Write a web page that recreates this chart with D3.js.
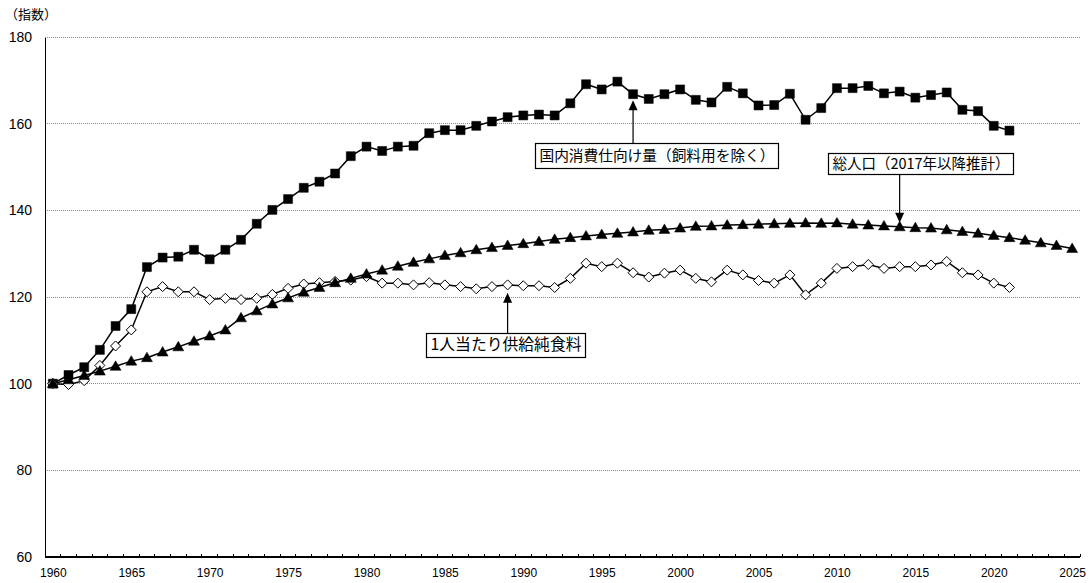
<!DOCTYPE html>
<html>
<head>
<meta charset="utf-8">
<script src="https://cdn.jsdelivr.net/npm/d3@7/dist/d3.min.js"></script>
<style>
  html, body { margin: 0; padding: 0; background: #fff; }
  svg { display: block; }
</style>
</head>
<body>
<svg id="chart" width="1092" height="583"></svg>
<script>
// Categories (years on the horizontal axis)
const years = [
  1960,1961,1962,1963,1964,1965,1966,1967,1968,1969,
  1970,1971,1972,1973,1974,1975,1976,1977,1978,1979,
  1980,1981,1982,1983,1984,1985,1986,1987,1988,1989,
  1990,1991,1992,1993,1994,1995,1996,1997,1998,1999,
  2000,2001,2002,2003,2004,2005,2006,2007,2008,2009,
  2010,2011,2012,2013,2014,2015,2016,2017,2018,2019,
  2020,2021,2022,2023,2024,2025
];
const xTickLabels = [1960,1965,1970,1975,1980,1985,1990,1995,2000,2005,2010,2015,2020,2025];
const yTickLabels = [60,80,100,120,140,160,180];

// 国内消費仕向け量（飼料用を除く）, index 1960=100, 1960–2021
const domesticConsumption = [
  100.0,102.0,103.8,107.8,113.3,117.2,126.9,129.1,129.3,130.9,
  128.7,130.9,133.2,136.9,140.1,142.6,145.2,146.6,148.5,152.5,
  154.7,153.7,154.7,154.9,157.8,158.5,158.5,159.5,160.5,161.5,
  161.9,162.1,161.9,164.7,169.1,167.9,169.7,166.8,165.7,166.8,
  167.9,165.5,164.9,168.5,167.0,164.2,164.3,166.9,160.9,163.6,
  168.2,168.2,168.7,167.0,167.4,166.0,166.6,167.2,163.2,162.9,
  159.5,158.4
];

// 1人当たり供給純食料, index 1960=100, 1960–2021
const perCapitaFood = [
  100.0,99.8,100.7,104.2,108.7,112.4,121.2,122.4,121.2,121.2,
  119.4,119.7,119.4,119.7,120.6,122.0,123.0,123.3,123.6,123.9,
  124.7,123.2,123.2,122.8,123.3,122.8,122.4,121.9,122.4,122.8,
  122.6,122.6,122.2,124.3,127.8,127.0,127.8,125.6,124.6,125.5,
  126.2,124.3,123.5,126.2,125.1,123.8,123.2,125.1,120.5,123.2,
  126.6,127.0,127.5,126.6,127.0,127.0,127.4,128.2,125.6,125.1,
  123.2,122.2
];

// 総人口, index 1960=100, 1960–2025 (from 2017 projected)
const totalPopulation = [
  100.0,100.9,101.9,102.9,104.0,105.2,106.0,107.3,108.5,109.8,
  111.0,112.4,115.2,116.8,118.4,119.8,121.1,122.2,123.3,124.3,
  125.3,126.2,127.1,128.0,128.8,129.6,130.2,130.9,131.4,131.9,
  132.3,132.8,133.3,133.7,134.1,134.4,134.7,135.0,135.4,135.6,
  135.9,136.3,136.4,136.6,136.7,136.8,136.9,137.0,137.1,137.0,
  137.1,136.8,136.6,136.4,136.2,136.0,135.9,135.5,135.1,134.7,
  134.2,133.7,133.1,132.5,131.9,131.2
];

// Callout labels: text, the year the arrow points to, and the series it points at
const callouts = [
  { text: "国内消費仕向け量（飼料用を除く）", year: 1997, series: "consumption" },
  { text: "総人口（2017年以降推計）", year: 2014, series: "population" },
  { text: "1人当たり供給純食料", year: 1989, series: "perCapita" }
];

const svg = d3.select("#chart");
const plotLeft = 45, plotRight = 1080, plotTop = 37, plotBottom = 557;

const x = d3.scalePoint().domain(years).range([plotLeft, plotRight]).padding(0.5);
const xBand = d3.scaleBand().domain(years).range([plotLeft, plotRight]);
const y = d3.scaleLinear().domain([60, 180]).range([plotBottom, plotTop]);

const latinFont = "'Liberation Sans', Arial, sans-serif";
const cjkFont = "'Noto Sans CJK JP', sans-serif";

// Horizontal dotted gridlines
svg.append("g")
  .selectAll("line")
  .data(yTickLabels.filter(v => v > 60))
  .join("line")
  .attr("x1", plotLeft).attr("x2", plotRight)
  .attr("y1", d => y(d)).attr("y2", d => y(d))
  .attr("stroke", "#8a8a8a")
  .attr("stroke-width", 1)
  .attr("stroke-dasharray", "1,1")
  .attr("shape-rendering", "crispEdges");

// Y axis
const yAxis = svg.append("g")
  .attr("transform", `translate(${plotLeft},0)`)
  .call(d3.axisLeft(y).tickValues(yTickLabels).tickSize(0).tickPadding(13));
yAxis.select(".domain").attr("stroke", "#000").attr("stroke-width", 1.2)
  .attr("shape-rendering", "crispEdges");
yAxis.selectAll("text").attr("font-family", latinFont).attr("font-size", 14).attr("fill", "#000");

// X axis labels
const xAxis = svg.append("g")
  .attr("transform", `translate(0,${plotBottom})`)
  .call(d3.axisBottom(x).tickValues(xTickLabels).tickSize(0).tickPadding(11));
xAxis.select(".domain").remove();
xAxis.selectAll("text").attr("font-family", latinFont).attr("font-size", 12).attr("fill", "#000");

// X axis baseline and minor ticks at category boundaries
svg.append("line")
  .attr("x1", plotLeft).attr("x2", plotRight)
  .attr("y1", plotBottom).attr("y2", plotBottom)
  .attr("stroke", "#000").attr("stroke-width", 1.2)
  .attr("shape-rendering", "crispEdges");
svg.append("g")
  .selectAll("line")
  .data(years.slice(1).concat(["end"]))
  .join("line")
  .attr("x1", d => d === "end" ? plotRight : xBand(d))
  .attr("x2", d => d === "end" ? plotRight : xBand(d))
  .attr("y1", plotBottom).attr("y2", plotBottom - 3)
  .attr("stroke", "#000").attr("stroke-width", 1)
  .attr("shape-rendering", "crispEdges");

// Y axis title
svg.append("text")
  .attr("x", 5).attr("y", 19)
  .attr("font-family", cjkFont).attr("font-size", 13)
  .attr("fill", "#000")
  .text("（指数）");

// Series
const seriesDefs = {
  consumption: { values: domesticConsumption, marker: "square" },
  perCapita: { values: perCapitaFood, marker: "diamond" },
  population: { values: totalPopulation, marker: "triangle" }
};

const line = d3.line().x(d => x(d.year)).y(d => y(d.value));

function toPoints(values) {
  return values.map((v, i) => ({ year: years[i], value: v }));
}

const symbolPaths = {
  square: "M-4.5,-4.5H4.5V4.5H-4.5Z",
  diamond: "M0,-5L5,0L0,5L-5,0Z",
  triangle: "M0,-5.5L5.5,4L-5.5,4Z"
};

["consumption", "perCapita", "population"].forEach(key => {
  const def = seriesDefs[key];
  const pts = toPoints(def.values);
  const g = svg.append("g");
  g.append("path")
    .datum(pts)
    .attr("d", line)
    .attr("fill", "none")
    .attr("stroke", "#000")
    .attr("stroke-width", 1.5);
  g.selectAll("path.marker")
    .data(pts)
    .join("path")
    .attr("class", "marker")
    .attr("transform", d => `translate(${x(d.year)},${y(d.value)})`)
    .attr("d", symbolPaths[def.marker])
    .attr("fill", def.marker === "diamond" ? "#fff" : "#000")
    .attr("stroke", "#000")
    .attr("stroke-width", def.marker === "diamond" ? 1 : 0.5);
});

// Callout boxes with arrows
const boxes = [
  { box: [535, 143, 243, 25], fontSize: 15, tipGap: 6, dir: "up" },
  { box: [828, 153, 185, 21], fontSize: 15, tipGap: 4, dir: "down" },
  { box: [426, 333, 159, 24], fontSize: 15.5, tipGap: 8, dir: "up" }
];

callouts.forEach((c, i) => {
  const b = boxes[i];
  const [bx, by, bw, bh] = b.box;
  const def = seriesDefs[c.series];
  const idx = years.indexOf(c.year);
  const ax = x(c.year);
  const markerY = y(def.values[idx]);
  const g = svg.append("g");

  let y0, y1;
  if (b.dir === "up") { y0 = by; y1 = markerY + b.tipGap; }
  else { y0 = by + bh; y1 = markerY - b.tipGap; }
  const sgn = b.dir === "up" ? 1 : -1;
  g.append("line")
    .attr("x1", ax).attr("x2", ax)
    .attr("y1", y0).attr("y2", y1 + sgn * 8)
    .attr("stroke", "#000").attr("stroke-width", 1.2);
  g.append("path")
    .attr("d", `M${ax},${y1}L${ax - 4.5},${y1 + sgn * 10}L${ax + 4.5},${y1 + sgn * 10}Z`)
    .attr("fill", "#000");

  g.append("rect")
    .attr("x", bx + 0.5).attr("y", by + 0.5)
    .attr("width", bw).attr("height", bh)
    .attr("fill", "#fff").attr("stroke", "#000").attr("stroke-width", 1.2);
  g.append("text")
    .attr("x", bx + bw / 2 + 0.5)
    .attr("y", by + bh / 2 + 1)
    .attr("dominant-baseline", "middle")
    .attr("text-anchor", "middle")
    .attr("font-family", cjkFont)
    .attr("font-size", b.fontSize)
    .attr("fill", "#000")
    .attr("textLength", bw - 8)
    .attr("lengthAdjust", "spacingAndGlyphs")
    .text(c.text);
});
</script>
</body>
</html>
